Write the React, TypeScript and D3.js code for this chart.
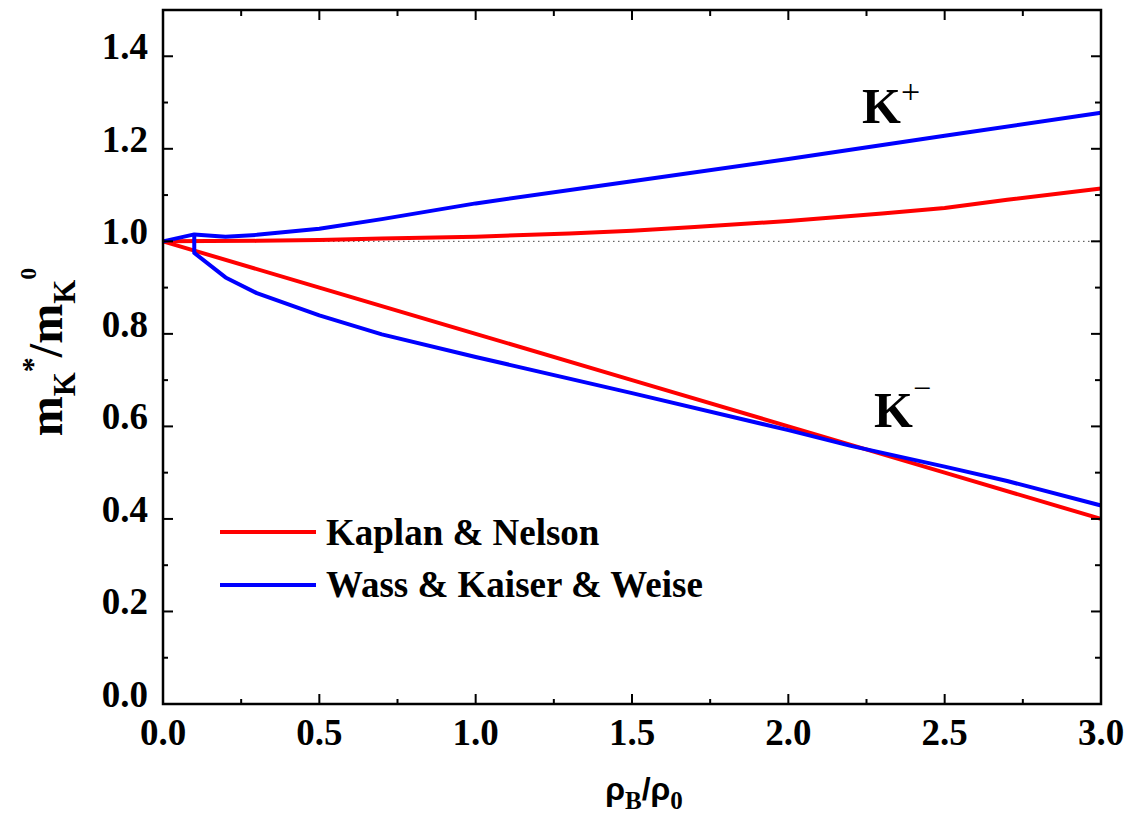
import React from "react";
import * as d3 from "d3";

const W = 1136;
const H = 816;
const M = { left: 163, right: 1101, top: 10, bottom: 704 };

// Kaplan & Nelson
const knPlusX = [0, 0.3, 0.5, 0.7, 1.0, 1.3, 1.5, 1.7, 2.0, 2.3, 2.5, 2.7, 3.0];
const knPlusY = [1.0, 1.001, 1.003, 1.006, 1.01, 1.017, 1.023, 1.031, 1.044, 1.06, 1.072, 1.09, 1.114];
const knMinusX = [0, 0.5, 1.0, 1.5, 2.0, 2.5, 3.0];
const knMinusY = [1.0, 0.9, 0.8, 0.7, 0.6, 0.5, 0.4];

// Wass & Kaiser & Weise
const wkwPlusX = [0, 0.1, 0.2, 0.3, 0.5, 0.7, 1.0, 1.5, 2.0, 2.5, 3.0];
const wkwPlusY = [1.0, 1.015, 1.01, 1.014, 1.027, 1.048, 1.082, 1.13, 1.178, 1.228, 1.278];
const wkwMinusX = [0.1, 0.1, 0.2, 0.3, 0.5, 0.7, 1.0, 1.5, 2.0, 2.2, 2.5, 2.7, 3.0];
const wkwMinusY = [1.015, 0.975, 0.922, 0.888, 0.84, 0.799, 0.75, 0.672, 0.592, 0.558, 0.513, 0.482, 0.429];

const xMajor = [0, 0.5, 1.0, 1.5, 2.0, 2.5, 3.0];
const xMinor = [0.25, 0.75, 1.25, 1.75, 2.25, 2.75];
const yMajor = [0, 0.2, 0.4, 0.6, 0.8, 1.0, 1.2, 1.4];
const yMinor = [0.1, 0.3, 0.5, 0.7, 0.9, 1.1, 1.3];

const legendNames = ["Kaplan & Nelson", "Wass & Kaiser & Weise"];
const colors = ["#ff0000", "#0000ff"];

const serif = "'Liberation Serif', 'Times New Roman', serif";
const sans = "'Liberation Sans', Arial, sans-serif";

export default function App() {
  const x = d3.scaleLinear().domain([0, 3]).range([M.left, M.right]);
  const y = d3.scaleLinear().domain([0, 1.5]).range([M.bottom, M.top]);
  const line = d3
    .line<[number, number]>()
    .x((d) => x(d[0]))
    .y((d) => y(d[1]));
  const zip = (a: number[], b: number[]) => a.map((v, i) => [v, b[i]] as [number, number]);

  const series = [
    { d: zip(knPlusX, knPlusY), c: colors[0] },
    { d: zip(knMinusX, knMinusY), c: colors[0] },
    { d: zip(wkwMinusX, wkwMinusY), c: colors[1] },
    { d: zip(wkwPlusX, wkwPlusY), c: colors[1] },
  ];

  const tickW = 2;
  return (
    <svg
      width={W}
      height={H}
      style={{ position: "absolute", left: 0, top: 0, background: "#fff" }}
    >
      {/* dotted reference */}
      <line
        x1={x(0)}
        x2={x(3)}
        y1={y(1)}
        y2={y(1)}
        stroke="#444"
        strokeWidth={1}
        strokeDasharray="1.5,3.5"
      />
      {series.map((s, i) => (
        <path
          key={i}
          d={line(s.d) || ""}
          fill="none"
          stroke={s.c}
          strokeWidth={4}
          strokeLinejoin="round"
        />
      ))}
      {/* frame */}
      <rect
        x={M.left}
        y={M.top}
        width={M.right - M.left}
        height={M.bottom - M.top}
        fill="none"
        stroke="#000"
        strokeWidth={2.5}
      />
      {/* x ticks bottom & top */}
      {xMajor.map((v) => (
        <g key={"xm" + v}>
          <line x1={x(v)} x2={x(v)} y1={M.bottom} y2={M.bottom - 10} stroke="#000" strokeWidth={tickW} />
          <line x1={x(v)} x2={x(v)} y1={M.top} y2={M.top + 10} stroke="#000" strokeWidth={tickW} />
          <text
            x={x(v)}
            y={745}
            textAnchor="middle"
            fontFamily={serif}
            fontWeight="bold"
            fontSize={37}
          >
            {v.toFixed(1)}
          </text>
        </g>
      ))}
      {xMinor.map((v) => (
        <g key={"xn" + v}>
          <line x1={x(v)} x2={x(v)} y1={M.bottom} y2={M.bottom - 5} stroke="#000" strokeWidth={tickW} />
          <line x1={x(v)} x2={x(v)} y1={M.top} y2={M.top + 6} stroke="#000" strokeWidth={tickW} />
        </g>
      ))}
      {yMajor.map((v) => (
        <g key={"ym" + v}>
          <line x1={M.left} x2={M.left + 10} y1={y(v)} y2={y(v)} stroke="#000" strokeWidth={tickW} />
          <line x1={M.right} x2={M.right - 10} y1={y(v)} y2={y(v)} stroke="#000" strokeWidth={tickW} />
          <text
            x={148}
            y={y(v) + 3}
            textAnchor="end"
            fontFamily={serif}
            fontWeight="bold"
            fontSize={37}
          >
            {v.toFixed(1)}
          </text>
        </g>
      ))}
      {yMinor.map((v) => (
        <g key={"yn" + v}>
          <line x1={M.left} x2={M.left + 5} y1={y(v)} y2={y(v)} stroke="#000" strokeWidth={tickW} />
          <line x1={M.right} x2={M.right - 6} y1={y(v)} y2={y(v)} stroke="#000" strokeWidth={tickW} />
        </g>
      ))}

      {/* legend */}
      {legendNames.map((n, i) => (
        <g key={n}>
          <line x1={220} x2={316} y1={532 + i * 53} y2={532 + i * 53} stroke={colors[i]} strokeWidth={4} />
          <text
            x={326}
            y={545 + i * 52}
            fontFamily={serif}
            fontWeight="bold"
            fontSize={37}
          >
            {n}
          </text>
        </g>
      ))}

      {/* K labels */}
      <text x={862} y={123} fontFamily={serif} fontWeight="bold" fontSize={50}>
        K
        <tspan fontWeight="normal" fontSize={34} dy={-20}>
          +
        </tspan>
      </text>
      <text x={874} y={427} fontFamily={serif} fontWeight="bold" fontSize={50}>
        K
        <tspan fontWeight="normal" fontSize={32} dy={-28}>
          −
        </tspan>
      </text>

      {/* y-axis title */}
      <text
        transform="translate(62,352) rotate(-90)"
        textAnchor="middle"
        fontFamily={serif}
        fontWeight="bold"
        fontSize={48}
      >
        m
        <tspan fontSize={31} dy={13}>K</tspan>
        <tspan fontSize={30} dy={-33}>*</tspan>
        <tspan fontSize={48} dy={20}>/m</tspan>
        <tspan fontSize={31} dy={13}>K</tspan>
        <tspan fontSize={24} dy={-39}>0</tspan>
      </text>

      {/* x-axis title */}
      <text x={644} y={800} textAnchor="middle" fontFamily={sans} fontWeight="bold" fontSize={32}>
        ρ
        <tspan fontFamily={serif} fontSize={25} dy={9}>B</tspan>
        <tspan fontFamily={sans} fontSize={32} dy={-9}>/ρ</tspan>
        <tspan fontFamily={serif} fontSize={25} dy={9}>0</tspan>
      </text>
    </svg>
  );
}
